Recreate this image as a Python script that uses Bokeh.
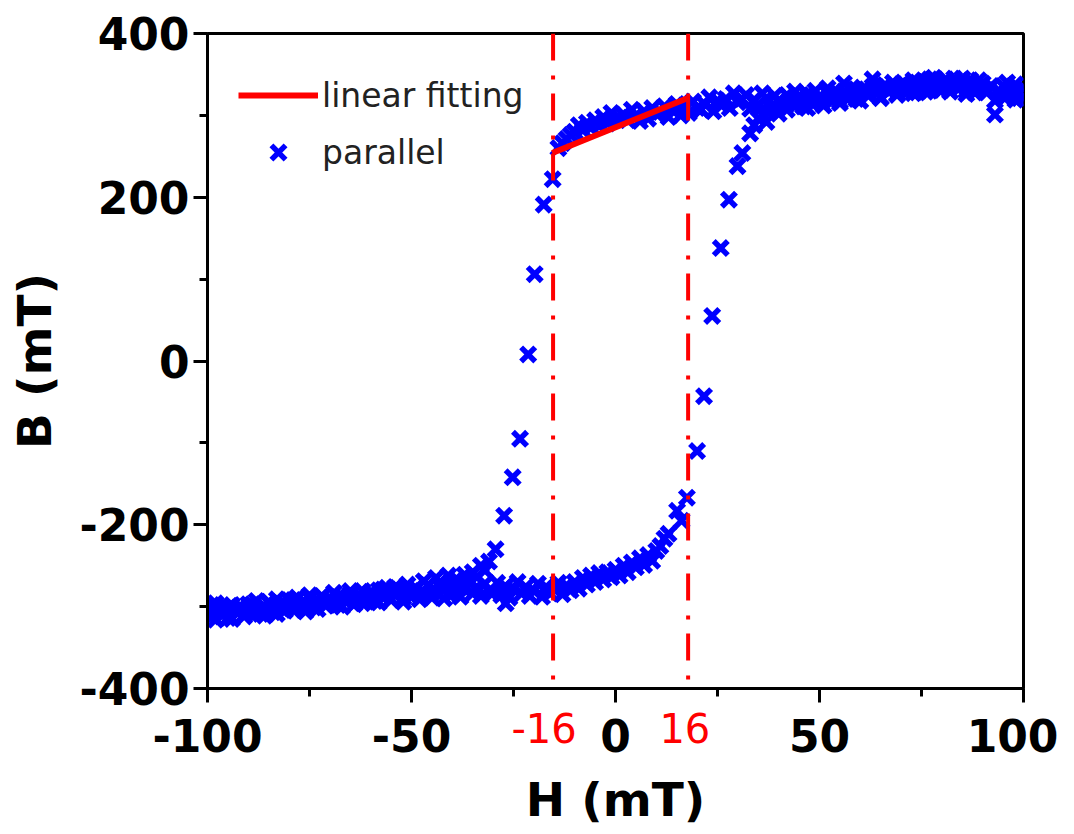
from bokeh.plotting import figure
from bokeh.models import ColumnDataSource, Span, Legend, LegendItem, FixedTicker, LinearAxis
from bokeh.embed import file_html
from bokeh.resources import INLINE

# ---------------- data ----------------
# descending branch, upper part (H from +100 down to -14 mT)
desc_upper_H = [100, 99, 98, 97, 96, 95, 94, 93, 92, 91,
                90, 89, 88, 87, 86, 85, 84, 83, 82, 81,
                80, 79, 78, 77, 76, 75, 74, 73, 72, 71,
                70, 69, 68, 67, 66, 65, 64, 63, 62, 61,
                60, 59, 58, 57, 56, 55, 54, 53, 52, 51,
                50, 49, 48, 47, 46, 45, 44, 43, 42, 41,
                40, 39, 38, 37, 36, 35, 34, 33, 32, 31,
                30, 29, 28, 27, 26, 25, 24, 23, 22, 21,
                20, 19, 18, 17, 16, 15, 14, 13, 12, 11,
                10, 9, 8, 7, 6, 5, 4, 3, 2, 1,
                0, -1, -2, -3, -4, -5, -6, -7, -8, -9,
                -10, -11, -12, -13, -14]
desc_upper_B = [334, 321, 338, 327, 340, 323, 330, 318, 336, 331,
                334, 343, 328, 338, 326, 345, 332, 340, 329, 344,
                339, 333, 346, 330, 341, 336, 328, 343, 331, 338,
                333, 326, 340, 329, 337, 322, 335, 344, 327, 331,
                328, 320, 334, 325, 339, 317, 330, 322, 333, 319,
                322, 330, 315, 326, 311, 324, 329, 318, 325, 314,
                318, 324, 310, 321, 327, 313, 319, 308, 325, 320,
                316, 327, 309, 320, 312, 318, 305, 322, 313, 307,
                309, 317, 303, 312, 300, 314, 306, 298, 311, 304,
                302, 309, 296, 305, 293, 300, 307, 294, 301, 297,
                296, 303, 290, 298, 287, 294, 285, 291, 282, 288,
                280, 276, 271, 266, 260]
# descending branch, switching part
desc_switch_H = [-15.4, -17.6, -19.8, -21.4, -23.4, -25.2, -27.3, -29.4, -26.9]
desc_switch_B = [222, 191, 106, 8, -95, -142, -189, -230, -296]
# descending branch, lower part (H from -31 down to -100 mT)
desc_lower_H = [-31, -32, -33, -34, -35, -36, -37, -38, -39, -40,
                -41, -42, -43, -44, -45, -46, -47, -48, -49, -50,
                -51, -52, -53, -54, -55, -56, -57, -58, -59, -60,
                -61, -62, -63, -64, -65, -66, -67, -68, -69, -70,
                -71, -72, -73, -74, -75, -76, -77, -78, -79, -80,
                -81, -82, -83, -84, -85, -86, -87, -88, -89, -90,
                -91, -92, -93, -94, -95, -96, -97, -98, -99, -100]
desc_lower_B = [-245, -256, -250, -264, -258, -270, -261, -275, -266, -272,
                -262, -279, -270, -265, -283, -274, -269, -286, -277, -281,
                -273, -289, -280, -276, -292, -284, -279, -295, -286, -282,
                -294, -281, -290, -297, -285, -293, -300, -288, -296, -291,
                -299, -287, -303, -294, -290, -306, -297, -301, -292, -298,
                -305, -296, -309, -300, -294, -311, -302, -307, -297, -303,
                -312, -299, -306, -315, -301, -309, -304, -316, -298, -310]
# ascending branch, lower part (H from -100 up to 12 mT)
asc_lower_H = [-100, -99, -98, -97, -96, -95, -94, -93, -92, -91,
               -90, -89, -88, -87, -86, -85, -84, -83, -82, -81,
               -80, -79, -78, -77, -76, -75, -74, -73, -72, -71,
               -70, -69, -68, -67, -66, -65, -64, -63, -62, -61,
               -60, -59, -58, -57, -56, -55, -54, -53, -52, -51,
               -50, -49, -48, -47, -46, -45, -44, -43, -42, -41,
               -40, -39, -38, -37, -36, -35, -34, -33, -32, -31,
               -30, -29, -28, -27, -26, -25, -24, -23, -22, -21,
               -20, -19, -18, -17, -16, -15, -14, -13, -12, -11,
               -10, -9, -8, -7, -6, -5, -4, -3, -2, -1,
               0, 1, 2, 3, 4, 5, 6, 7, 8, 9, 10, 11, 12]
asc_lower_B = [-300, -312, -296, -308, -303, -314, -298, -306, -301, -310,
               -297, -305, -293, -309, -300, -295, -307, -291, -302, -298,
               -292, -304, -289, -299, -295, -286, -301, -293, -288, -297,
               -290, -283, -298, -287, -294, -281, -292, -285, -296, -289,
               -284, -293, -280, -289, -277, -291, -286, -279, -294, -283,
               -288, -278, -291, -282, -274, -289, -281, -276, -290, -284,
               -285, -273, -288, -279, -270, -284, -276, -287, -272, -281,
               -283, -271, -286, -275, -289, -278, -270, -284, -276, -287,
               -281, -272, -288, -276, -284, -279, -271, -285, -274, -280,
               -270, -278, -265, -273, -262, -270, -259, -267, -258, -264,
               -255, -262, -250, -258, -246, -252, -241, -249, -237, -244, -232, -226, -217]
# ascending branch, switching part
asc_switch_H = [13.0, 15.1, 16.2, 17.5, 20.0, 21.7, 23.7, 25.8, 27.8, 29.9, 31.1, 33.0]
asc_switch_B = [-211, -183, -195, -167, -110, -43, 55, 138, 197, 238, 254, 278]
# ascending branch, upper part (H from 34 up to 100 mT)
asc_upper_H = [34, 35, 36, 37, 38, 39, 40, 41, 42, 43,
               44, 45, 46, 47, 48, 49, 50, 51, 52, 53,
               54, 55, 56, 57, 58, 59, 60, 61, 62, 63,
               64, 65, 66, 67, 68, 69, 70, 71, 72, 73,
               74, 75, 76, 77, 78, 79, 80, 81, 82, 83,
               84, 85, 86, 87, 88, 89, 90, 91, 92, 93,
               94, 95, 96, 97, 98, 99, 100]
asc_upper_B = [288, 296, 301, 292, 305, 310, 302, 314, 307, 318,
               311, 322, 314, 309, 325, 316, 320, 312, 327, 318,
               323, 315, 329, 320, 326, 332, 318, 330, 324, 335,
               327, 321, 336, 329, 333, 325, 338, 330, 336, 327,
               340, 333, 329, 344, 335, 339, 331, 342, 336, 345,
               334, 341, 330, 343, 337, 332, 339, 328, 335, 301,
               329, 336, 324, 331, 319, 328, 322]

# linear fit segment
fit_H = [-15.5, 17.6]
fit_B = [254, 321]
# guide lines and their labels
guide_H = [-15.3, 17.8]
guide_label_H = [-17.5, 17.0]
guide_labels = ["-16", "16"]

x_ticks = [-100, -50, 0, 50, 100]
x_tick_labels = ["-100", "-50", "0", "50", "100"]
x_minor = [-75, -25, 25, 75]
y_ticks = [-400, -200, 0, 200, 400]
y_tick_labels = ["-400", "-200", "0", "200", "400"]
y_minor = [-300, -100, 100, 300]

# ---------------- figure ----------------
H_all = desc_upper_H + desc_switch_H + desc_lower_H + asc_lower_H + asc_switch_H + asc_upper_H
B_all = desc_upper_B + desc_switch_B + desc_lower_B + asc_lower_B + asc_switch_B + asc_upper_B
src = ColumnDataSource(data=dict(H=H_all, B=B_all))

p = figure(frame_width=816, frame_height=655, x_range=(-100, 100), y_range=(-400, 400),
           output_backend="svg", toolbar_location=None,
           min_border_left=207, min_border_top=33, min_border_right=35, min_border_bottom=135)
p.background_fill_color = "white"
p.border_fill_color = "white"
p.xgrid.visible = False
p.ygrid.visible = False
p.outline_line_color = "black"
p.outline_line_width = 3
p.outline_line_alpha = 1

xax = p.below[0]
yax = p.left[0]
xax.ticker = FixedTicker(ticks=x_ticks, minor_ticks=x_minor)
yax.ticker = FixedTicker(ticks=y_ticks, minor_ticks=y_minor)
xax.major_label_overrides = {t: s for t, s in zip(x_ticks, x_tick_labels)}
yax.major_label_overrides = {t: s for t, s in zip(y_ticks, y_tick_labels)}
for ax in (xax, yax):
    ax.axis_line_width = 3
    ax.axis_line_color = "black"
    ax.major_tick_line_width = 3
    ax.minor_tick_line_width = 3
    ax.major_tick_line_color = "black"
    ax.minor_tick_line_color = "black"
    ax.major_tick_out = 14
    ax.major_tick_in = 0
    ax.minor_tick_out = 8
    ax.minor_tick_in = 0
    ax.major_label_text_font = "DejaVu Sans"
    ax.major_label_text_font_style = "bold"
    ax.major_label_text_font_size = "44px"
    ax.major_label_text_color = "black"
    ax.axis_label_text_font = "DejaVu Sans"
    ax.axis_label_text_font_style = "bold"
    ax.axis_label_text_font_size = "47px"
    ax.axis_label_text_color = "black"
yax.axis_label = "B (mT)"
xax.major_label_standoff = 16
yax.major_label_standoff = 4
yax.axis_label_standoff = 14

sc = p.scatter("H", "B", source=src, marker="x", size=20, line_color="#0000ff", line_width=5.5)

for gx in guide_H:
    p.add_layout(Span(location=gx, dimension="height", line_color="#ff0000",
                      line_width=4, line_dash="27 15 4 14"))

fit = p.line(fit_H, fit_B, line_color="#ff0000", line_width=6)

# second bottom axis: the red labels of the guide lines (pulled up beside the
# black tick labels) and the axis title
red_axis = LinearAxis(ticker=FixedTicker(ticks=guide_label_H, minor_ticks=[]),
                      major_label_overrides={t: s for t, s in zip(guide_label_H, guide_labels)},
                      axis_line_color=None,
                      major_tick_line_color=None, minor_tick_line_color=None,
                      major_tick_out=0, major_tick_in=0, minor_tick_out=0, minor_tick_in=0,
                      major_label_standoff=-42, major_label_text_color="#ff0000",
                      major_label_text_font="DejaVu Sans", major_label_text_font_size="40px",
                      axis_label="H (mT)", axis_label_standoff=26,
                      axis_label_text_font="DejaVu Sans", axis_label_text_font_style="bold",
                      axis_label_text_font_size="47px", axis_label_text_color="black")
p.add_layout(red_axis, "below")

legend = Legend(items=[LegendItem(label="linear fitting", renderers=[fit]),
                       LegendItem(label="parallel", renderers=[sc])],
                location=(31, 511), glyph_width=80, glyph_height=50, spacing=7,
                label_standoff=4, padding=0, margin=0,
                border_line_color=None, background_fill_alpha=0,
                label_text_font="DejaVu Sans", label_text_font_size="33px",
                label_text_color="#222222", label_height=50)
p.add_layout(legend)

open("out.html", "w").write(file_html(p, INLINE))
